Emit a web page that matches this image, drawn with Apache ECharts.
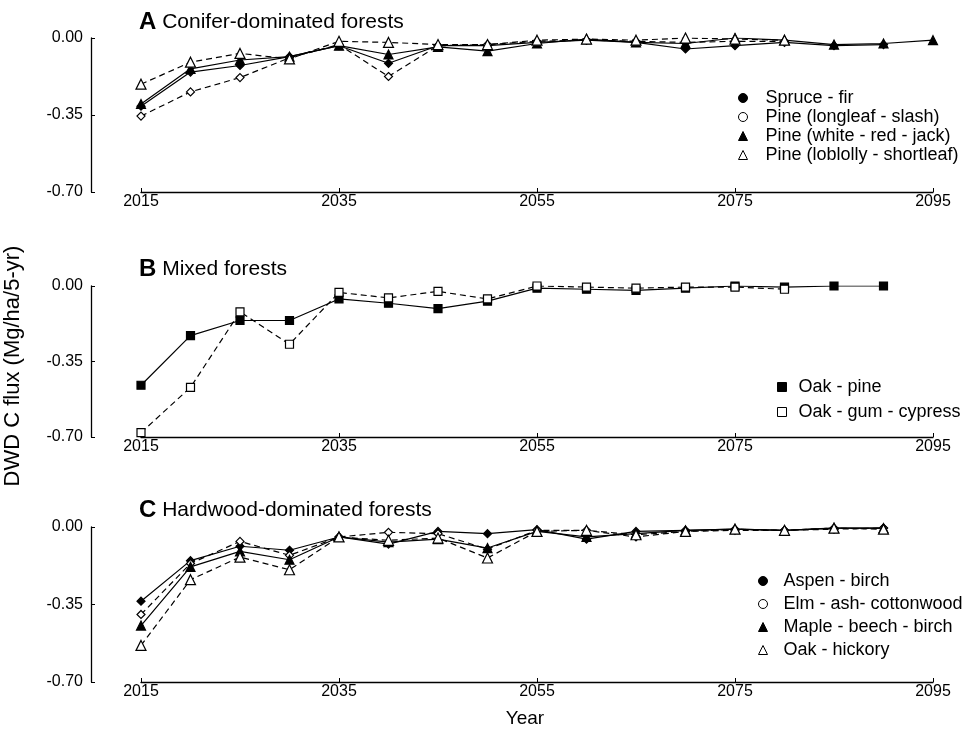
<!DOCTYPE html>
<html><head><meta charset="utf-8">
<script src="https://cdn.jsdelivr.net/npm/echarts@6/dist/echarts.min.js"></script>
<style>html,body{margin:0;padding:0;background:#fff}#c{width:964px;height:729px}</style>
</head><body><div id="c"></div>
<script>
// ---- data ----
const yearsA = [2015,2020,2025,2030,2035,2040,2045,2050,2055,2060,2065,2070,2075,2080,2085,2090,2095];
const yearsBC = [2015,2020,2025,2030,2035,2040,2045,2050,2055,2060,2065,2070,2075,2080,2085,2090];
const xTicks = [2015,2035,2055,2075,2095];
const yTicks = [0.00,-0.35,-0.70];

const spruceFir    = [-0.31,-0.155,-0.125,-0.085,-0.035,-0.115,-0.035,-0.035,-0.02,-0.01,-0.02,-0.05,-0.035,-0.02,-0.035,-0.03,null];
const pineLongleaf = [-0.355,-0.245,-0.18,-0.09,-0.03,-0.175,-0.035,-0.03,-0.015,-0.01,-0.015,-0.02,-0.015,-0.015,null,null,null];
const pineWhite    = [-0.30,-0.14,-0.10,-0.085,-0.035,-0.075,-0.04,-0.06,-0.025,-0.005,-0.02,-0.025,0.0,-0.01,-0.03,-0.025,-0.01];
const pineLoblolly = [-0.21,-0.11,-0.07,-0.095,-0.015,-0.02,-0.03,-0.03,-0.01,-0.005,-0.01,0.0,-0.005,-0.01,null,null,null];

const oakPine      = [-0.46,-0.23,-0.16,-0.16,-0.06,-0.08,-0.105,-0.07,-0.01,-0.015,-0.02,-0.01,0.0,-0.005,0.0,0.0];
const oakGum       = [-0.68,-0.47,-0.12,-0.27,-0.03,-0.055,-0.025,-0.06,0.0,-0.005,-0.01,-0.005,-0.005,-0.015,null,null];

const aspenBirch   = [-0.335,-0.152,-0.087,-0.105,-0.045,-0.077,-0.02,-0.03,-0.012,-0.055,-0.02,-0.015,-0.01,-0.015,-0.005,-0.005];
const elmAsh       = [-0.395,-0.165,-0.065,-0.128,-0.045,-0.024,-0.03,-0.10,-0.015,-0.015,-0.045,-0.02,-0.015,-0.015,-0.01,-0.005];
const mapleBeech   = [-0.445,-0.18,-0.11,-0.148,-0.045,-0.068,-0.055,-0.095,-0.02,-0.045,-0.03,-0.015,-0.01,-0.015,-0.005,-0.005];
const oakHickory   = [-0.535,-0.238,-0.136,-0.193,-0.045,-0.06,-0.05,-0.14,-0.02,-0.015,-0.035,-0.02,-0.01,-0.015,-0.005,-0.01];

// ---- build ----
const FONT = 'Liberation Sans, Arial, sans-serif';
function pairs(xs, ys){ const o=[]; xs.forEach((x,i)=>{ if(ys[i]!==null) o.push([x,ys[i]]); }); return o; }

function mk(name, idx, xs, ys, symbol, filled, dashed, size){
  return {
    name, type:'line', xAxisIndex:idx, yAxisIndex:idx,
    data: pairs(xs, ys),
    symbol, symbolSize: size, showSymbol:true,
    itemStyle:{color: filled ? '#000' : '#fff', borderColor:'#000', borderWidth:1.2},
    lineStyle:{color:'#000', width:1.2, type: dashed ? [6,4] : 'solid'},
    emphasis:{disabled:true}, animation:false, z: 3
  };
}

const grids = [
  {left:141, right:31, top:38, height:154},
  {left:141, right:31, top:286, height:151},
  {left:141, right:31, top:527, height:155}
];

const xAxes = grids.map((g,i)=>({
  gridIndex:i, type:'value', min:2015, max:2095, interval:20,
  axisLine:{onZero:false, lineStyle:{color:'#000', width:1.3}},
  axisTick:{inside:true, length:4, lineStyle:{color:'#000'}},
  axisLabel:{color:'#000', fontSize:16, fontFamily:FONT, margin:2,
    formatter:v=> xTicks.includes(v) ? String(v) : ''},
  splitLine:{show:false}
}));
const yAxes = grids.map((g,i)=>({
  gridIndex:i, type:'value', min:-0.70, max:0, interval:0.35, offset:50,
  axisLine:{show:true, onZero:false, lineStyle:{color:'#000', width:1.3}},
  axisTick:{show:true, inside:true, length:4, lineStyle:{color:'#000'}},
  axisLabel:{color:'#000', fontSize:16, fontFamily:FONT, margin:8,
    formatter:v=>{ const t = yTicks.find(k=>Math.abs(k-v)<1e-6); return t===undefined ? '' : t.toFixed(2); }},
  splitLine:{show:false}
}));

const series = [
  mk('Spruce - fir',0,yearsA,spruceFir,'diamond',true,false,8),
  mk('Pine (longleaf - slash)',0,yearsA,pineLongleaf,'diamond',false,true,8),
  mk('Pine (white - red - jack)',0,yearsA,pineWhite,'triangle',true,false,9),
  mk('Pine (loblolly - shortleaf)',0,yearsA,pineLoblolly,'triangle',false,true,10),
  mk('Oak - pine',1,yearsBC,oakPine,'rect',true,false,8),
  mk('Oak - gum - cypress',1,yearsBC,oakGum,'rect',false,true,8),
  mk('Aspen - birch',2,yearsBC,aspenBirch,'diamond',true,false,8),
  mk('Elm - ash- cottonwood',2,yearsBC,elmAsh,'diamond',false,true,8),
  mk('Maple - beech - birch',2,yearsBC,mapleBeech,'triangle',true,false,9),
  mk('Oak - hickory',2,yearsBC,oakHickory,'triangle',false,true,10)
];

function legItem(name, icon, filled){
  return {name, icon, itemStyle:{color: filled?'#000':'#fff', borderColor:'#000', borderWidth:1}};
}
function leg(left, top, gap, pad, data){
  return {orient:'vertical', left, top, itemWidth:9, itemHeight:9, itemGap:gap, selectedMode:false,
    textStyle:{color:'#000', fontSize:18, fontFamily:FONT, padding:[0,0,0,pad]}, data};
}

const legends = [
  leg(733, 84, 1, 13, [
    legItem('Spruce - fir','circle',true), legItem('Pine (longleaf - slash)','circle',false),
    legItem('Pine (white - red - jack)','triangle',true), legItem('Pine (loblolly - shortleaf)','triangle',false)]),
  leg(772, 373, 7, 7, [
    legItem('Oak - pine','rect',true), legItem('Oak - gum - cypress','rect',false)]),
  leg(753, 567, 5, 11, [
    legItem('Aspen - birch','circle',true), legItem('Elm - ash- cottonwood','circle',false),
    legItem('Maple - beech - birch','triangle',true), legItem('Oak - hickory','triangle',false)])
];

function ttl(letter, text, top){
  return {text:'{b|'+letter+'} '+text, left:134, top:top,
    textStyle:{color:'#000', fontSize:21, fontWeight:'normal', fontFamily:FONT,
      rich:{b:{fontSize:24, fontWeight:'bold', fontFamily:FONT, color:'#000'}}}};
}

const chart = echarts.init(document.getElementById('c'), null, {renderer:'canvas'});
chart.setOption({
  backgroundColor:'#fff',
  animation:false,
  title:[ttl('A','Conifer-dominated forests',5), ttl('B','Mixed forests',252), ttl('C','Hardwood-dominated forests',493)],
  grid:grids, xAxis:xAxes, yAxis:yAxes, legend:legends, series,
  graphic:[
    {type:'text', x:13, y:366, rotation:Math.PI/2,
      style:{text:'DWD C flux (Mg/ha/5-yr)', fill:'#000', font:'22px '+FONT, textAlign:'center', textVerticalAlign:'middle'}},
    {type:'text', x:525, y:719,
      style:{text:'Year', fill:'#000', font:'19px '+FONT, textAlign:'center', textVerticalAlign:'middle'}}
  ]
});
</script></body></html>
